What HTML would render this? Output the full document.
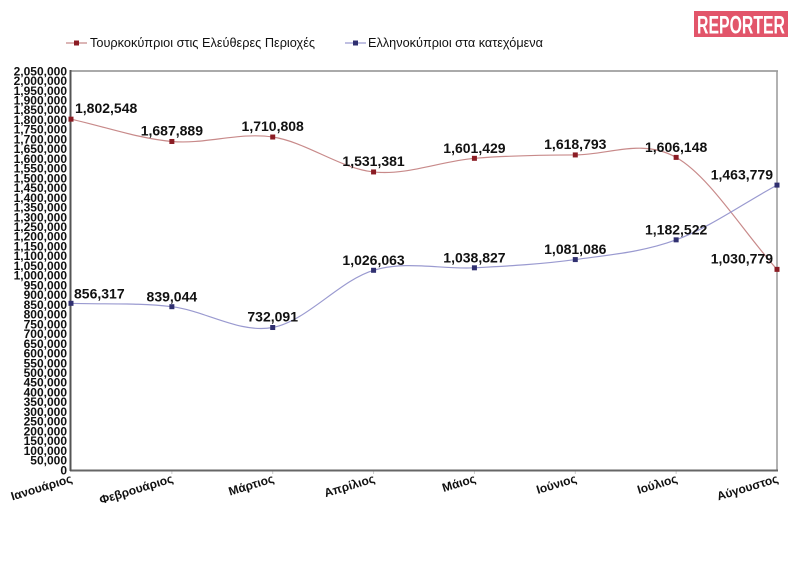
<!DOCTYPE html>
<html><head><meta charset="utf-8"><style>
html,body{margin:0;padding:0;background:#fff;}
svg{display:block;}
text{font-family:"Liberation Sans",Arial,sans-serif;}
.yl{font-size:12px;font-weight:bold;text-anchor:end;fill:#111;}
.dl{font-size:14px;font-weight:bold;fill:#111;text-anchor:middle;}
.xl{font-size:12px;font-weight:bold;fill:#111;text-anchor:end;}
</style></head><body>
<svg width="800" height="588" viewBox="0 0 800 588" xmlns="http://www.w3.org/2000/svg">
<rect width="800" height="588" fill="#fff"/>
<!-- logo -->
<rect x="694" y="11" width="94" height="26" fill="#e2556a"/>
<text x="697" y="33.5" font-size="25" font-weight="bold" fill="#fff" textLength="88" lengthAdjust="spacingAndGlyphs">REPORTER</text>
<!-- legend -->
<line x1="66" y1="43" x2="87" y2="43" stroke="#c88a8a" stroke-width="1.2"/>
<rect x="74" y="40.5" width="5" height="5" fill="#8b1c24"/>
<text x="90" y="47" font-size="13" fill="#111" textLength="225" lengthAdjust="spacingAndGlyphs">Τουρκοκύπριοι στις Ελεύθερες Περιοχές</text>
<line x1="345" y1="43" x2="366" y2="43" stroke="#9a9ad0" stroke-width="1.2"/>
<rect x="353" y="40.5" width="5" height="5" fill="#303070"/>
<text x="368" y="47" font-size="13" fill="#111" textLength="175" lengthAdjust="spacingAndGlyphs">Ελληνοκύπριοι στα κατεχόμενα</text>
<!-- plot borders -->
<line x1="71" y1="71" x2="778" y2="71" stroke="#aaaaaa" stroke-width="2"/>
<line x1="777" y1="71" x2="777" y2="471" stroke="#999999" stroke-width="1.5"/>
<g stroke="#cccccc" stroke-width="1">
<line x1="171.86" y1="470" x2="171.86" y2="474"/>
<line x1="272.71" y1="470" x2="272.71" y2="474"/>
<line x1="373.57" y1="470" x2="373.57" y2="474"/>
<line x1="474.43" y1="470" x2="474.43" y2="474"/>
<line x1="575.29" y1="470" x2="575.29" y2="474"/>
<line x1="676.14" y1="470" x2="676.14" y2="474"/>
</g>
<line x1="70" y1="470.5" x2="778" y2="470.5" stroke="#666666" stroke-width="2"/>
<line x1="70.5" y1="70" x2="70.5" y2="471" stroke="#555555" stroke-width="2"/>
<!-- y labels -->
<g class="yl">
<text x="67" y="474.3">0</text>
<text x="67" y="464.57">50,000</text>
<text x="67" y="454.84">100,000</text>
<text x="67" y="445.1">150,000</text>
<text x="67" y="435.37">200,000</text>
<text x="67" y="425.64">250,000</text>
<text x="67" y="415.91">300,000</text>
<text x="67" y="406.18">350,000</text>
<text x="67" y="396.45">400,000</text>
<text x="67" y="386.71">450,000</text>
<text x="67" y="376.98">500,000</text>
<text x="67" y="367.25">550,000</text>
<text x="67" y="357.52">600,000</text>
<text x="67" y="347.79">650,000</text>
<text x="67" y="338.06">700,000</text>
<text x="67" y="328.32">750,000</text>
<text x="67" y="318.59">800,000</text>
<text x="67" y="308.86">850,000</text>
<text x="67" y="299.13">900,000</text>
<text x="67" y="289.4">950,000</text>
<text x="67" y="279.67">1,000,000</text>
<text x="67" y="269.93">1,050,000</text>
<text x="67" y="260.2">1,100,000</text>
<text x="67" y="250.47">1,150,000</text>
<text x="67" y="240.74">1,200,000</text>
<text x="67" y="231.01">1,250,000</text>
<text x="67" y="221.28">1,300,000</text>
<text x="67" y="211.54">1,350,000</text>
<text x="67" y="201.81">1,400,000</text>
<text x="67" y="192.08">1,450,000</text>
<text x="67" y="182.35">1,500,000</text>
<text x="67" y="172.62">1,550,000</text>
<text x="67" y="162.89">1,600,000</text>
<text x="67" y="153.15">1,650,000</text>
<text x="67" y="143.42">1,700,000</text>
<text x="67" y="133.69">1,750,000</text>
<text x="67" y="123.96">1,800,000</text>
<text x="67" y="114.23">1,850,000</text>
<text x="67" y="104.5">1,900,000</text>
<text x="67" y="94.76">1,950,000</text>
<text x="67" y="85.03">2,000,000</text>
<text x="67" y="75.3">2,050,000</text>
</g>
<!-- x labels -->
<g class="xl">
<text transform="translate(73,482) rotate(-17)">Ιανουάριος</text>
<text transform="translate(173.86,482) rotate(-17)">Φεβρουάριος</text>
<text transform="translate(274.71,482) rotate(-17)">Μάρτιος</text>
<text transform="translate(375.57,482) rotate(-17)">Απρίλιος</text>
<text transform="translate(476.43,482) rotate(-17)">Μάιος</text>
<text transform="translate(577.29,482) rotate(-17)">Ιούνιος</text>
<text transform="translate(678.14,482) rotate(-17)">Ιούλιος</text>
<text transform="translate(779,482) rotate(-17)">Αύγουστος</text>
</g>
<!-- series lines -->
<path d="M71,119.16 C104.62,126.6 138.24,138.5 171.86,141.48 C205.48,144.46 239.09,131.94 272.71,137.02 C306.33,142.1 339.95,168.39 373.57,171.94 C407.19,175.49 440.81,161.15 474.43,158.31 C508.05,155.47 541.67,155.08 575.29,154.93 C608.91,154.78 642.52,138.32 676.14,157.39 C709.76,176.46 743.38,232.04 777,269.37" fill="none" stroke="#c88a8a" stroke-width="1.2"/>
<path d="M71,303.33 C104.62,304.45 138.24,302.66 171.86,306.69 C205.48,310.72 239.09,333.58 272.71,327.51 C306.33,321.44 339.95,280.24 373.57,270.29 C407.19,260.34 440.81,269.6 474.43,267.81 C508.05,266.03 541.67,264.24 575.29,259.58 C608.91,254.92 642.52,252.25 676.14,239.84 C709.76,227.43 743.38,203.35 777,185.1" fill="none" stroke="#9a9ad0" stroke-width="1.2"/>
<!-- markers -->
<g fill="#8b1c24">
<rect x="68.5" y="116.66" width="5" height="5"/>
<rect x="169.36" y="138.98" width="5" height="5"/>
<rect x="270.21" y="134.52" width="5" height="5"/>
<rect x="371.07" y="169.44" width="5" height="5"/>
<rect x="471.93" y="155.81" width="5" height="5"/>
<rect x="572.79" y="152.43" width="5" height="5"/>
<rect x="673.64" y="154.89" width="5" height="5"/>
<rect x="774.5" y="266.87" width="5" height="5"/>
</g>
<g fill="#303070">
<rect x="68.5" y="300.83" width="5" height="5"/>
<rect x="169.36" y="304.19" width="5" height="5"/>
<rect x="270.21" y="325.01" width="5" height="5"/>
<rect x="371.07" y="267.79" width="5" height="5"/>
<rect x="471.93" y="265.31" width="5" height="5"/>
<rect x="572.79" y="257.08" width="5" height="5"/>
<rect x="673.64" y="237.34" width="5" height="5"/>
<rect x="774.5" y="182.6" width="5" height="5"/>
</g>
<!-- data labels -->
<g class="dl">
<text x="75" y="113" text-anchor="start">1,802,548</text>
<text x="171.86" y="135.5">1,687,889</text>
<text x="272.71" y="131">1,710,808</text>
<text x="373.57" y="166">1,531,381</text>
<text x="474.43" y="153">1,601,429</text>
<text x="575.29" y="149">1,618,793</text>
<text x="676.14" y="152">1,606,148</text>
<text x="773" y="263.5" text-anchor="end">1,030,779</text>
<text x="74" y="298.3" text-anchor="start">856,317</text>
<text x="171.86" y="301.5">839,044</text>
<text x="272.71" y="321.7">732,091</text>
<text x="373.57" y="265">1,026,063</text>
<text x="474.43" y="262.5">1,038,827</text>
<text x="575.29" y="254">1,081,086</text>
<text x="676.14" y="234.5">1,182,522</text>
<text x="773" y="179.5" text-anchor="end">1,463,779</text>
</g>
</svg>
</body></html>
